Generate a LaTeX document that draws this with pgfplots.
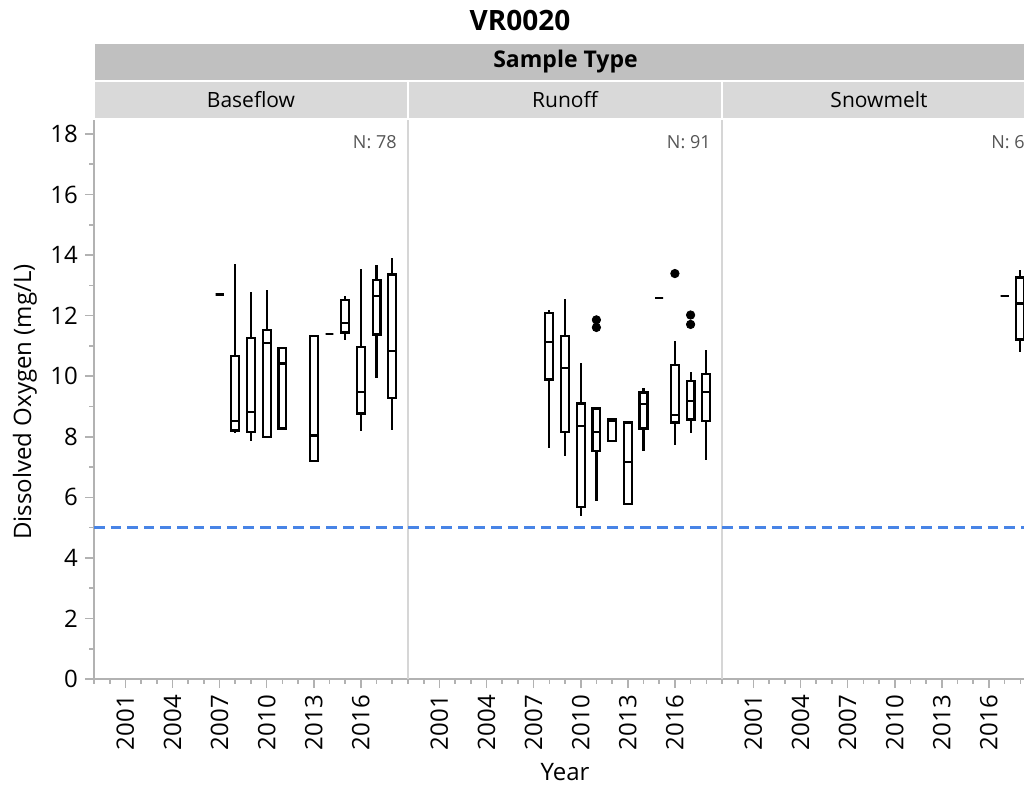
\documentclass[border=0pt]{standalone}
\usepackage{pgfplots}
\pgfplotsset{compat=1.18}
\usepackage{pgfplotstable}
\usepgfplotslibrary{statistics}
\usepackage{fontspec}
\setmainfont{Open Sans}

\definecolor{axgray}{RGB}{178,178,178}
\definecolor{sepgray}{RGB}{214,214,214}
\definecolor{hdrdark}{RGB}{192,192,192}
\definecolor{hdrlight}{RGB}{217,217,217}
\definecolor{refblue}{RGB}{72,132,230}
\definecolor{ngray}{RGB}{85,85,85}

% box statistics per year: whiskers, quartiles, median
\pgfplotstableread{
pos lw lq med uq uw
2007 12.70 12.70 12.70 12.70 12.70
2008 8.14 8.21 8.52 10.67 13.72
2009 7.86 8.17 8.82 11.27 12.79
2010 7.98 7.98 11.09 11.53 12.85
2011 8.27 8.27 10.42 10.92 10.92
2013 7.21 7.21 8.04 11.33 11.33
2014 11.39 11.39 11.39 11.39 11.39
2015 11.19 11.44 11.75 12.52 12.65
2016 8.20 8.77 9.47 10.97 13.54
2017 9.95 11.38 12.65 13.18 13.67
2018 8.22 9.29 10.84 13.36 13.91
}\baseflow

\pgfplotstableread{
pos lw lq med uq uw
2008 7.62 9.89 11.14 12.10 12.19
2009 7.36 8.17 10.28 11.33 12.54
2010 5.38 5.67 8.36 9.10 10.44
2011 5.88 7.53 8.17 8.93 8.93
2012 7.86 7.86 8.52 8.57 8.57
2013 5.77 5.77 7.16 8.47 8.47
2014 7.54 8.27 9.07 9.46 9.61
2015 12.57 12.57 12.57 12.57 12.57
2016 7.73 8.47 8.72 10.37 11.17
2017 8.13 8.57 9.18 9.83 10.15
2018 7.23 8.52 9.47 10.07 10.88
}\runoff

\pgfplotstableread{
pos val
2011 11.86
2011 11.61
2016 13.39
2017 12.02
2017 11.71
}\runoffout

\pgfplotstableread{
pos lw lq med uq uw
2017 12.65 12.65 12.65 12.65 12.65
2018 10.81 11.21 12.40 13.26 13.50
}\snowmelt

% x is plotted as year-2000
\newcommand{\drawboxes}[1]{%
  \pgfplotstablegetrowsof{#1}%
  \pgfmathtruncatemacro\lastrow{\pgfplotsretval-1}%
  \pgfplotsinvokeforeach{0,...,\lastrow}{%
    \pgfplotstablegetelem{##1}{pos}\of#1\pgfmathtruncatemacro\bpos{\pgfplotsretval-2000}%
    \pgfplotstablegetelem{##1}{lw}\of#1\let\blw\pgfplotsretval
    \pgfplotstablegetelem{##1}{lq}\of#1\let\blq\pgfplotsretval
    \pgfplotstablegetelem{##1}{med}\of#1\let\bmed\pgfplotsretval
    \pgfplotstablegetelem{##1}{uq}\of#1\let\buq\pgfplotsretval
    \pgfplotstablegetelem{##1}{uw}\of#1\let\buw\pgfplotsretval
    \edef\boxcmd{\noexpand\addplot[boxst,
      boxplot prepared={draw position=\bpos,
        lower whisker=\blw, lower quartile=\blq, median=\bmed,
        upper quartile=\buq, upper whisker=\buw}] coordinates {};}%
    \boxcmd
  }%
}

\tikzset{
  refline/.style={refblue, line width=1.2pt, dash pattern=on 5.3pt off 3pt},
  nlab/.style={anchor=north east, inner sep=0pt, text=ngray,
    font=\fontsize{9}{11}\selectfont, xshift=-5.5pt, yshift=-7.5pt},
}
\pgfplotsset{
  boxst/.style={black, solid, line width=1.1pt, mark=none,
    boxplot/draw direction=y,
    boxplot/box extend=0.5, boxplot/whisker extend=0},
  panel/.style={
    scale only axis, width=157pt, height=279.5pt,
    xmin=-1, xmax=19, ymin=0, ymax=18.46,
    axis x line*=bottom, axis y line*=left,
    x axis line style={axgray, line width=0.8pt},
    tick align=outside, xtick pos=bottom, ytick pos=left,
    major tick length=4.6pt, minor tick length=2.3pt,
    tick style={axgray, line width=0.8pt},
    xtick={1,4,...,16},
    xticklabels={2001,2004,2007,2010,2013,2016},
    minor xtick={-1,0,...,19},
    xticklabel style={rotate=90, anchor=east, font=\fontsize{12}{14}\selectfont},
    yticklabel style={font=\fontsize{12}{14}\selectfont},
    /pgf/number format/assume math mode=true,
    clip=false,
  },
}

\begin{document}
\begin{tikzpicture}
\path[use as bounding box] (0,0) rectangle (512pt,-394.5pt);

% Baseflow
\begin{axis}[panel, at={(47pt,-339.5pt)}, anchor=south west,
  y axis line style={axgray, line width=0.8pt},
  ytick={0,2,...,18}, minor ytick={1,3,...,17}]
\addplot[refline] coordinates {(-1,5) (19,5)};
\drawboxes{\baseflow}
\node[nlab] at (rel axis cs:1,1) {N: 78};
\end{axis}

% Runoff
\begin{axis}[panel, at={(204pt,-339.5pt)}, anchor=south west,
  y axis line style={sepgray, line width=0.8pt},
  ytick=\empty]
\addplot[refline] coordinates {(-1,5) (19,5)};
\drawboxes{\runoff}
\addplot[only marks, mark=*, mark size=2.1pt, black] table[x expr=\thisrow{pos}-2000, y=val] {\runoffout};
\node[nlab] at (rel axis cs:1,1) {N: 91};
\end{axis}

% Snowmelt
\begin{axis}[panel, at={(361pt,-339.5pt)}, anchor=south west,
  y axis line style={sepgray, line width=0.8pt},
  ytick=\empty]
\addplot[refline] coordinates {(-1,5) (19,5)};
\drawboxes{\snowmelt}
\node[nlab] at (rel axis cs:1,1) {N: 6};
\end{axis}

% header strips
\fill[hdrdark] (47.5pt,-22pt) rectangle (518pt,-40pt);
\fill[hdrlight] (47.5pt,-41pt) rectangle (203.5pt,-59pt);
\fill[hdrlight] (204.5pt,-41pt) rectangle (360.5pt,-59pt);
\fill[hdrlight] (361.5pt,-41pt) rectangle (518pt,-59pt);

\node[font=\bfseries\fontsize{14}{16}\selectfont] at (260pt,-10pt) {VR0020};
\node[font=\bfseries\fontsize{11.5}{13}\selectfont] at (282.75pt,-31pt) {Sample Type};
\node[font=\fontsize{10.5}{12}\selectfont] at (125.5pt,-50pt) {Baseflow};
\node[font=\fontsize{10.5}{12}\selectfont] at (282.5pt,-50pt) {Runoff};
\node[font=\fontsize{10.5}{12}\selectfont] at (439.5pt,-50pt) {Snowmelt};

\node[rotate=90, font=\fontsize{12}{14}\selectfont] at (12.5pt,-201pt) {Dissolved Oxygen (mg/L)};
\node[font=\fontsize{12}{14}\selectfont] at (282.5pt,-386pt) {Year};
\end{tikzpicture}
\end{document}
